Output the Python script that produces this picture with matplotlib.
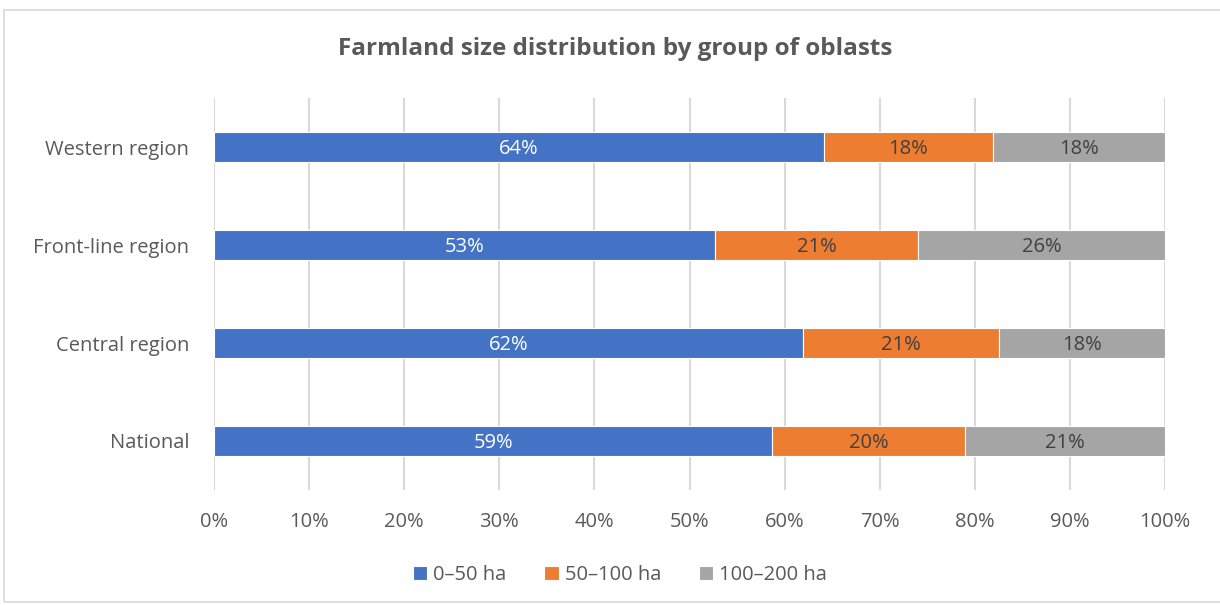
import matplotlib

matplotlib.use("Agg")

import matplotlib.pyplot as plt  # noqa: E402
from matplotlib.patches import Rectangle  # noqa: E402

plt.rcParams["font.family"] = ["Open Sans", "DejaVu Sans"]

# Shares in percent (bottom-to-top order)
regions = ["National", "Central region", "Front-line region", "Western region"]
small = [58.7, 61.9, 52.7, 64.1]
medium = [20.3, 20.6, 21.3, 17.8]
large = [21.0, 17.5, 26.0, 18.1]
series_names = ["0–50 ha", "50–100 ha", "100–200 ha"]
x_ticks = list(range(0, 101, 10))

_COLORS = ["#4472c4", "#ed7d31", "#a5a5a5"]
_LABEL_COLORS = ["white", "#404040", "#404040"]
_TEXT = "#595959"
_GRID = "#d9d9d9"

fig = plt.figure(figsize=(12.2, 6.05), dpi=100)
ax = fig.add_axes([214 / 1220, 1 - 490 / 605, 951 / 1220, 392 / 605])

ypos = list(range(len(regions)))
left = [0.0] * len(regions)
for vals, color, lcolor, name in zip([small, medium, large], _COLORS, _LABEL_COLORS, series_names):
    bars = ax.barh(ypos, vals, left=left, height=0.31, color=color, edgecolor="white",
                   linewidth=0.8, label=name, zorder=2)
    for bar, v in zip(bars, vals):
        ax.text(bar.get_x() + bar.get_width() / 2, bar.get_y() + bar.get_height() / 2,
                f"{round(v):d}%", ha="center", va="center_baseline", color=lcolor,
                fontsize=14.5, zorder=3)
    left = [a + b for a, b in zip(left, vals)]

ax.set_xlim(0, 100)
ax.set_ylim(-0.5, 3.5)
ax.set_xticks(x_ticks)
ax.set_xticklabels([f"{t}%" for t in x_ticks])
ax.set_yticks(ypos)
ax.set_yticklabels(regions)
ax.tick_params(axis="both", length=0, labelsize=14.5, colors=_TEXT)
ax.tick_params(axis="x", pad=16)
ax.tick_params(axis="y", pad=18)
ax.grid(axis="x", color=_GRID, linewidth=1.5, zorder=0)
for spine in ax.spines.values():
    spine.set_visible(False)

fig.text(615 / 1220, 1 - 49 / 605, "Farmland size distribution by group of oblasts",
         ha="center", va="center", fontsize=17.5, fontweight="bold", color=_TEXT)

fig.legend(loc="center", bbox_to_anchor=(620 / 1220, 1 - 575 / 605), ncol=3, frameon=False,
           fontsize=14.5, labelcolor=_TEXT, handlelength=0.7, handleheight=0.7,
           handletextpad=0.3, columnspacing=1.9)

fig.patches.append(Rectangle((4 / 1220, 0.005), 1.2, 1 - 10 / 605 - 0.005, transform=fig.transFigure,
                             fill=False, edgecolor="#d9d9d9", linewidth=1.2))

fig.savefig("out.png", dpi=100)
